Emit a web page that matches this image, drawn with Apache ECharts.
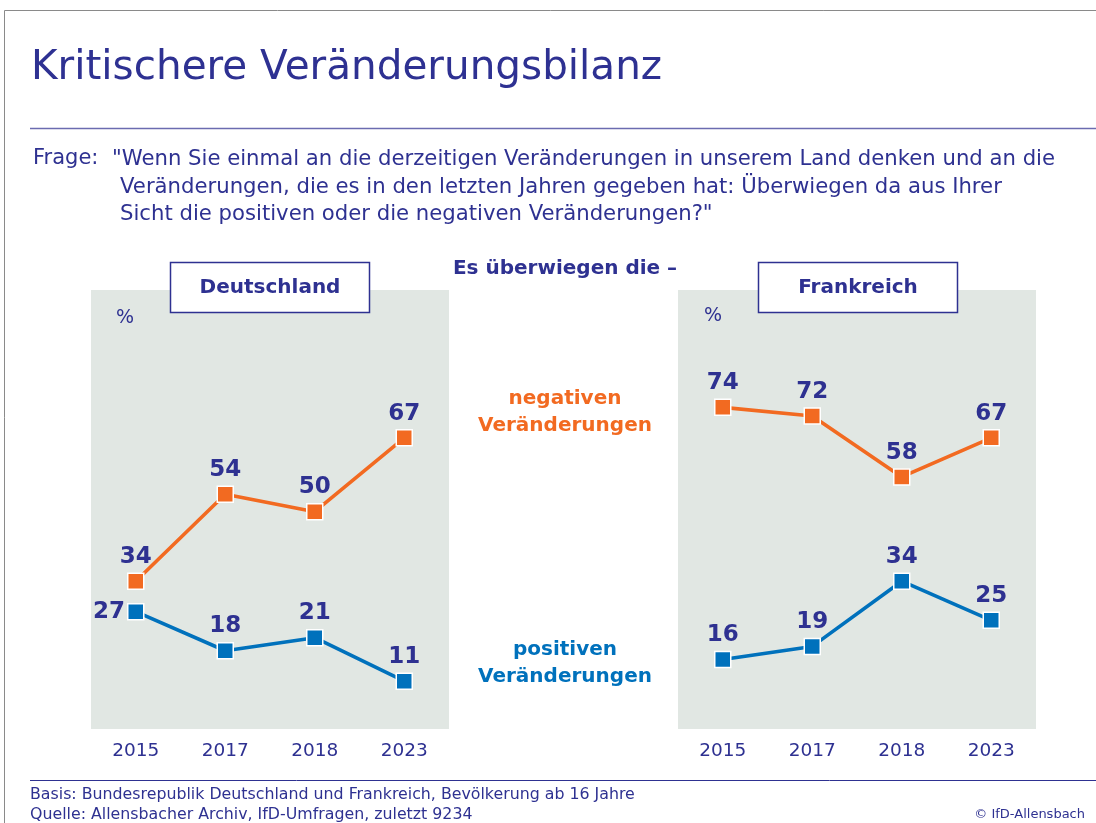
<!DOCTYPE html>
<html>
<head>
<meta charset="utf-8">
<style>
html,body{margin:0;padding:0;background:#fff;}
#chart{width:1096px;height:823px;}
</style>
<script src="https://cdn.jsdelivr.net/npm/echarts@6/dist/echarts.min.js"></script>
</head>
<body>
<div id="chart"></div>
<script>
const years = ['2015', '2017', '2018', '2023'];
const deNegativ = [34, 54, 50, 67];
const dePositiv = [27, 18, 21, 11];
const frNegativ = [74, 72, 58, 67];
const frPositiv = [16, 19, 34, 25];

const NAVY = '#2e3191';
const ORANGE = '#f26a21';
const BLUE = '#0071bc';
const GREY = '#e1e7e3';
const FONT = "'DejaVu Sans', Verdana, sans-serif";

const chart = echarts.init(document.getElementById('chart'));

function grid(left) {
  return {left: left, top: 290, width: 358, height: 439, show: true,
    backgroundColor: GREY, borderWidth: 0, containLabel: false};
}
function xAxis(idx) {
  return {type: 'category', gridIndex: idx, data: years, boundaryGap: true,
    axisLine: {show: false}, axisTick: {show: false}, splitLine: {show: false},
    axisLabel: {color: NAVY, fontSize: 18.5, fontFamily: FONT, margin: 13}};
}
function yAxis(idx) {
  return {type: 'value', gridIndex: idx, min: 0, max: 101, show: false,
    splitLine: {show: false}};
}
function series(idx, data, color, leftFirst) {
  return {type: 'line', xAxisIndex: idx, yAxisIndex: idx,
    data: data.map((v, i) => (leftFirst && i === 0)
      ? {value: v, label: {position: 'left', distance: 2}} : v),
    symbol: 'rect', symbolSize: 16,
    lineStyle: {color: color, width: 3.6},
    itemStyle: {color: color, borderColor: '#ffffff', borderWidth: 1.5},
    label: {show: true, position: 'top', distance: 4, color: NAVY,
      fontSize: 23, fontWeight: 'bold', fontFamily: FONT},
    silent: true, animation: false, z: 3};
}

function txt(x, y, text, opts) {
  return Object.assign({type: 'text', x: x, y: y, silent: true,
    style: Object.assign({text: text, fill: NAVY, fontFamily: FONT, fontSize: 20,
      textVerticalAlign: 'middle'}, opts || {})});
}

chart.setOption({
  animation: false,
  grid: [grid(91), grid(678)],
  xAxis: [xAxis(0), xAxis(1)],
  yAxis: [yAxis(0), yAxis(1)],
  series: [
    series(0, deNegativ, ORANGE, false),
    series(0, dePositiv, BLUE, true),
    series(1, frNegativ, ORANGE, false),
    series(1, frPositiv, BLUE, false)
  ],
  graphic: [
    {type: 'rect', shape: {x: 4.5, y: 10.5, width: 1200, height: 900}, silent: true,
      style: {fill: 'none', stroke: '#8a8a8a', lineWidth: 1}},
    txt(31, 68, 'Kritischere Veränderungsbilanz', {fontSize: 40.5, fill: '#2e3192'}),
    {type: 'line', shape: {x1: 30, y1: 128.5, x2: 1096, y2: 128.5}, silent: true,
      style: {stroke: '#6b6bb0', lineWidth: 1.5}},
    txt(33, 159, 'Frage:', {fontSize: 21}),
    txt(112, 159, '"Wenn Sie einmal an die derzeitigen Veränderungen in unserem Land denken und an die', {fontSize: 21.2}),
    txt(120, 187, 'Veränderungen, die es in den letzten Jahren gegeben hat: Überwiegen da aus Ihrer', {fontSize: 21.2}),
    txt(120, 214, 'Sicht die positiven oder die negativen Veränderungen?"', {fontSize: 21.2}),
    txt(565, 269, 'Es überwiegen die –', {fontWeight: 'bold', textAlign: 'center'}),
    {type: 'rect', shape: {x: 170.5, y: 262.5, width: 199, height: 50}, z: 10, silent: true,
      style: {fill: '#ffffff', stroke: NAVY, lineWidth: 1.5}},
    {type: 'rect', shape: {x: 758.5, y: 262.5, width: 199, height: 50}, z: 10, silent: true,
      style: {fill: '#ffffff', stroke: NAVY, lineWidth: 1.5}},
    Object.assign(txt(270, 288, 'Deutschland', {fontWeight: 'bold', textAlign: 'center'}), {z: 11}),
    Object.assign(txt(858, 288, 'Frankreich', {fontWeight: 'bold', textAlign: 'center'}), {z: 11}),
    Object.assign(txt(116, 318, '%', {fontSize: 19}), {z: 11}),
    Object.assign(txt(704, 316, '%', {fontSize: 19}), {z: 11}),
    txt(565, 399, 'negativen', {fill: ORANGE, fontWeight: 'bold', textAlign: 'center', fontSize: 20}),
    txt(565, 426, 'Veränderungen', {fill: ORANGE, fontWeight: 'bold', textAlign: 'center', fontSize: 20}),
    txt(565, 650, 'positiven', {fill: BLUE, fontWeight: 'bold', textAlign: 'center', fontSize: 20}),
    txt(565, 677, 'Veränderungen', {fill: BLUE, fontWeight: 'bold', textAlign: 'center', fontSize: 20}),
    {type: 'line', shape: {x1: 30, y1: 780.5, x2: 1096, y2: 780.5}, silent: true,
      style: {stroke: NAVY, lineWidth: 1}},
    txt(30, 795, 'Basis: Bundesrepublik Deutschland und Frankreich, Bevölkerung ab 16 Jahre', {fontSize: 15.8}),
    txt(30, 815, 'Quelle: Allensbacher Archiv, IfD-Umfragen, zuletzt 9234', {fontSize: 15.8}),
    txt(1085, 815, '© IfD-Allensbach', {fontSize: 13, textAlign: 'right'})
  ]
});
</script>
</body>
</html>
